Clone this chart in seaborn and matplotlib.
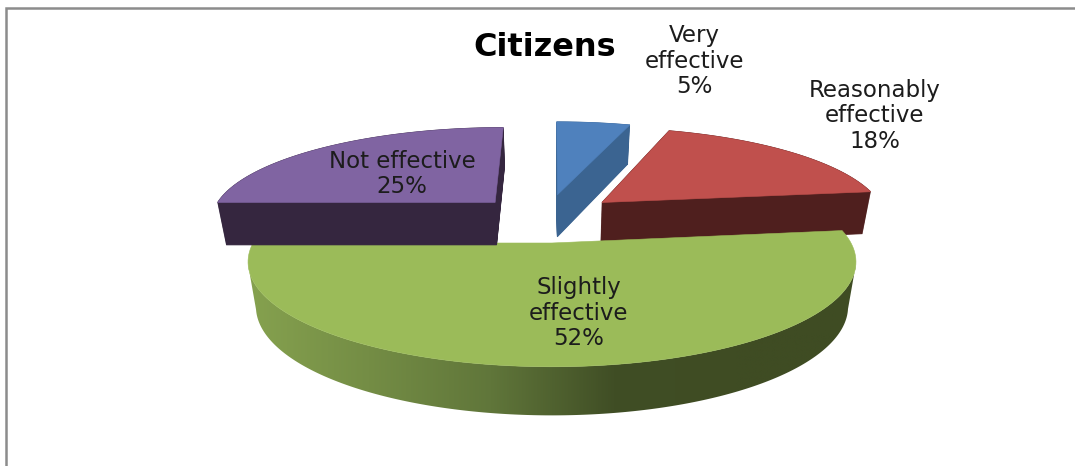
import numpy as np
import matplotlib
matplotlib.use('Agg')
import matplotlib.pyplot as plt
from matplotlib.patches import Polygon
import seaborn as sns

title = 'Citizens'
categories = ['Very\neffective', 'Reasonably\neffective', 'Slightly\neffective', 'Not effective']
shares = [5, 18, 52, 25]

top_colors = ['#4f81bd', '#c0504d', '#9bbb59', '#8064a2']
side_colors = ['#3b6491', '#4f1f1e', '#3f4c23', '#35263f']
green_side = ['#86a24f', '#748d45', '#60763a', '#404e25', '#3f4c23', '#3f4c23']

# slice position on the tilted disc, and where its label sits
offsets = [(0.02, 0.52), (0.18, 0.43), (0.0, 0.0), (-0.205, 0.43)]
label_xy = [(694, 61), (875, 116), (579, 313), (402, 174)]

# camera for the fake 3d look
cx, cy = 552, 243
sx, sy = 299, 101.5
persp = 0.18
depth = 44


def project(x, y, t=0.0):
    s = 1 / (1 + persp * y)
    px = cx + sx * x * s * (1 - 0.026 * t)
    py = cy - sy * y * s + depth * np.sqrt(s) * t
    return np.column_stack([px, py])


def outline(wedge, off):
    ang = np.radians(np.linspace(wedge.theta1, wedge.theta2, 120))
    x = np.r_[0, np.cos(ang)] + off[0]
    y = np.r_[0, np.sin(ang)] + off[1]
    return x, y


sns.set_theme(style='white')
fig, ax = plt.subplots(figsize=(10.75, 4.66), dpi=100)
wedges, _ = ax.pie(shares, startangle=90, counterclock=False)
angles = list(wedges)
for w in wedges:
    w.set_visible(False)
ax.set_aspect('auto')
ax.set_position([0, 0, 1, 1])
ax.axis('off')

# back slices first, green one goes in front
for i in [0, 1, 3, 2]:
    x, y = outline(angles[i], offsets[i])
    if i == 2:
        # shaded rim of the green slice, from widest point to widest point
        ang = np.radians(np.linspace(angles[i].theta1, angles[i].theta2, 300))
        ang = ang[np.sin(ang) < -0.2]
        rim_top = project(np.cos(ang), np.sin(ang), 0)
        rim_bot = project(np.cos(ang), np.sin(ang), 1)
        rim = Polygon(np.vstack([rim_top, rim_bot[::-1]]), fc='none', ec='none')
        ax.add_patch(rim)
        cmap = sns.blend_palette(green_side, as_cmap=True)
        im = ax.imshow(np.linspace(0, 1, 256)[None, :], cmap=cmap, aspect='auto', extent=(245, 860, 430, 240), zorder=i + 1)
        im.set_clip_path(rim)
    else:
        for t in np.linspace(1, 0, 50):
            ax.add_patch(Polygon(project(x, y, t), fc=side_colors[i], ec=side_colors[i], lw=0.6, zorder=i + 1))
    ax.add_patch(Polygon(project(x, y), fc=top_colors[i], ec=top_colors[i], lw=0.4, zorder=i + 1))

ax.set_xlim(0, 1075)
ax.set_ylim(466, 0)

for i, name in enumerate(categories):
    ax.text(label_xy[i][0], label_xy[i][1], f'{name}\n{shares[i]}%', ha='center', va='center',
            fontsize=16.5, color='#1c1c1c', linespacing=1.12, zorder=10)
ax.text(545, 47, title, ha='center', va='center', fontsize=23, fontweight='bold', color='black', zorder=10)

# chart frame, only left and top show in the crop
ax.plot([6, 6, 1075], [466, 8, 8], color='#8c8c8c', lw=1.8, solid_joinstyle='miter', zorder=11)

fig.savefig('out.png', dpi=100, facecolor='white')
